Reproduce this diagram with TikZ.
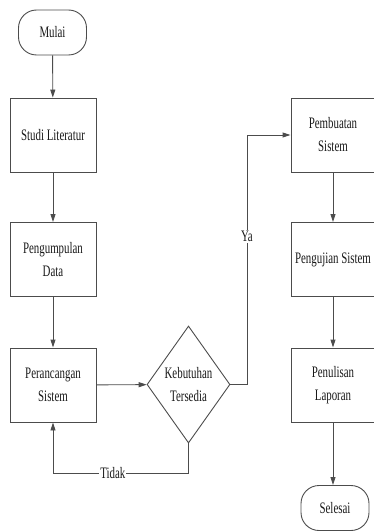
\documentclass[tikz,border=0pt]{standalone}
\usepackage{fontspec}
\setmainfont[FakeStretch=0.68]{Liberation Serif}
\usetikzlibrary{arrows.meta,shapes.geometric}

\tikzset{
  base/.style={draw=black!70, line width=0.9pt, text=black!90, align=center,
    font=\fontsize{16}{23}\selectfont, inner sep=0pt},
  process/.style={base, rectangle, minimum width=86pt, minimum height=74pt},
  terminal/.style={base, rectangle, rounded corners=18pt, minimum width=68pt, minimum height=45pt},
  decision/.style={base, diamond, aspect=0.71, minimum width=83pt, minimum height=117pt},
  flow/.style={draw=black!70, line width=0.9pt, -{Triangle[length=8pt,width=5pt]}},
  label/.style={fill=white, text=black!90, font=\fontsize{16}{18}\selectfont, inner sep=1pt}
}

\begin{document}
\begin{tikzpicture}[x=1pt, y=-1pt]
  \useasboundingbox (0,0) rectangle (374,532);

  % left column
  \node[terminal] (mulai)   at (52.5,32.5) {Mulai};
  \node[process]  (studi)   at (53,135)    {Studi Literatur};
  \node[process]  (kumpul)  at (53,259.5)  {Pengumpulan\\Data};
  \node[process]  (rancang) at (53,385)    {Perancangan\\Sistem};

  % decision
  \node[decision] (cek) at (188.5,384.5) {Kebutuhan\\Tersedia};

  % right column
  \node[process, minimum width=84pt] (buat)  at (333,135)   {Pembuatan\\Sistem};
  \node[process, minimum width=84pt] (uji)   at (333,259.5) {Pengujian Sistem};
  \node[process, minimum width=84pt] (tulis) at (333,385)   {Penulisan\\Laporan};
  \node[terminal] (selesai) at (335,508) {Selesai};

  \coordinate (yabend)  at (247,384.5);
  \coordinate (tdkbend) at (188.5,473);

  % connectors
  \draw[flow] (mulai) -- (studi);
  \draw[flow] (studi) -- (kumpul);
  \draw[flow] (kumpul) -- (rancang);
  \draw[flow] (rancang) -- (cek);
  \draw[flow] (cek.east) -- (yabend) |- (buat.west)
    node[label, pos=0.296] {Ya};
  \draw[flow] (cek.south) -- (tdkbend) -| (rancang.south)
    node[label, pos=0.279] {Tidak};
  \draw[flow] (buat) -- (uji);
  \draw[flow] (uji) -- (tulis);
  \draw[flow] (tulis.south) -- (tulis.south |- selesai.north);
\end{tikzpicture}
\end{document}
